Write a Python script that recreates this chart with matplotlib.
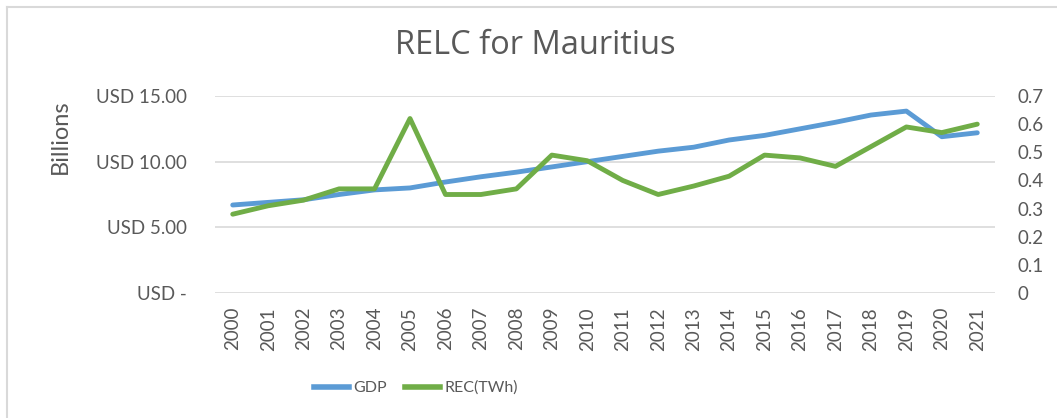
import numpy as np
import matplotlib
matplotlib.use('Agg')
from matplotlib import pyplot as plt
from matplotlib.lines import Line2D

years = [str(y) for y in range(2000, 2022)]
gdp = [6.7, 6.9, 7.1, 7.5, 7.85, 8.0, 8.45, 8.85, 9.2, 9.6, 10.0,
       10.4, 10.8, 11.1, 11.65, 12.0, 12.5, 13.0, 13.55, 13.85, 11.9, 12.2]
rec = [0.28, 0.31, 0.33, 0.37, 0.37, 0.62, 0.35, 0.35, 0.37, 0.49, 0.47,
       0.40, 0.35, 0.38, 0.415, 0.49, 0.48, 0.45, 0.52, 0.59, 0.57, 0.60]
left_ticks = [0, 5, 10, 15]
left_labels = ['USD -', 'USD 5.00', 'USD 10.00', 'USD 15.00']
right_ticks = [0, 0.1, 0.2, 0.3, 0.4, 0.5, 0.6, 0.7]
right_labels = ['0', '0.1', '0.2', '0.3', '0.4', '0.5', '0.6', '0.7']

plt.rcParams['font.family'] = ['Lato', 'DejaVu Sans']
grey = '#595959'
blue = '#5B9BD5'
green = '#70AD47'

W, H = 1057, 418
px = 72 / 100  # points per pixel
fig = plt.figure(figsize=(W / 100, H / 100), dpi=100)
ax = fig.add_axes([215 / W, 1 - 293 / H, 780 / W, 197 / H])
ax2 = ax.twinx()

x = np.arange(len(years))
ax.plot(x, gdp, color=blue, lw=3.5, solid_capstyle='round', zorder=3)
ax2.plot(x, rec, color=green, lw=3.5, solid_capstyle='round', zorder=3)

ax.set_xlim(-0.5, len(years) - 0.5)
ax.set_ylim(0, 15)
ax2.set_ylim(0, 0.7)
ax.set_yticks(left_ticks)
ax.set_yticklabels(left_labels)
ax2.set_yticks(right_ticks)
ax2.set_yticklabels(right_labels)
ax.set_xticks(x)
ax.set_xticklabels(years, rotation=90)

ax.grid(axis='y', color='#D9D9D9', lw=1.2)
ax.set_axisbelow(True)
for a in (ax, ax2):
    for s in a.spines.values():
        s.set_visible(False)
    a.tick_params(length=0, colors=grey, labelsize=13.5)
ax.tick_params(axis='y', pad=28 * px)
ax2.tick_params(axis='y', pad=22 * px)
ax.tick_params(axis='x', pad=14 * px)

fig.text(535 / W, 1 - 46 / H, 'RELC for Mauritius', ha='center', va='center',
         fontsize=23.5, color=grey, family='Open Sans')
fig.text(60 / W, 1 - 137 / H, 'Billions', rotation=90, ha='center', va='center',
         fontsize=17, color=grey)

handles = [Line2D([], [], color=blue, lw=4), Line2D([], [], color=green, lw=4)]
fig.legend(handles, ['GDP', 'REC(TWh)'], loc='center', bbox_to_anchor=(416 / W, 1 - 388 / H),
           ncol=2, frameon=False, fontsize=11.5, labelcolor=grey, handlelength=2.2,
           handletextpad=0.3, columnspacing=1.1)

# chart frame (top and left edges visible)
fig.add_artist(Line2D([7 / W, 7 / W], [0, 1 - 7 / H], color='#D9D9D9', lw=1.5))
fig.add_artist(Line2D([7 / W, 1], [1 - 7 / H, 1 - 7 / H], color='#D9D9D9', lw=1.5))

fig.savefig('out.png', dpi=100)
